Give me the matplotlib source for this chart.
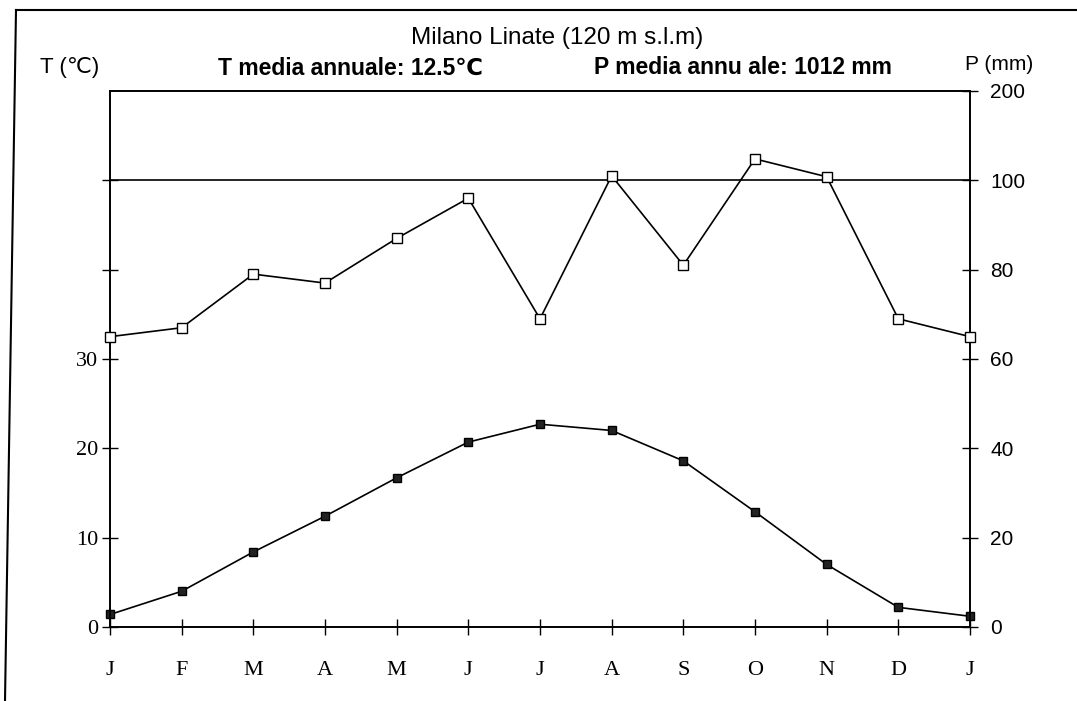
import matplotlib
matplotlib.use('Agg')
import matplotlib.pyplot as plt
import numpy as np
from matplotlib.lines import Line2D

# Dati climatici Milano Linate
mesi = ['J', 'F', 'M', 'A', 'M', 'J', 'J', 'A', 'S', 'O', 'N', 'D', 'J']
temperatura = [1.4, 4.0, 8.4, 12.4, 16.7, 20.7, 22.7, 22.0, 18.6, 12.9, 7.0, 2.2, 1.2]
precipitazioni = [65, 67, 79, 77, 87, 96, 69, 105, 81, 124, 104, 69, 65]

tick_t = [0, 10, 20, 30, 40, 50]
label_t = ['0', '10', '20', '30', '', '']
tick_p = [0, 20, 40, 60, 80, 100, 200]


# scala P: lineare fino a 100 mm, compressa sopra
def avanti_p(p):
    p = np.asarray(p, dtype=float)
    return np.where(p <= 100, p, 100 + (p - 100) / 5.0)


def indietro_p(y):
    y = np.asarray(y, dtype=float)
    return np.where(y <= 100, y, 100 + (y - 100) * 5.0)


# scala T: T*2 = P
def avanti_t(t):
    return avanti_p(np.asarray(t, dtype=float) * 2)


def indietro_t(y):
    return indietro_p(y) / 2.0


serif = ['Liberation Serif', 'DejaVu Serif']
sans = ['Liberation Sans', 'DejaVu Sans']

fig = plt.figure(figsize=(10.77, 7.01), dpi=100)
ax = fig.add_axes([110 / 1077, 1 - 627 / 701, 860 / 1077, 536 / 701])
ax2 = ax.twinx()

x = np.arange(len(mesi))

ax.set_yscale('function', functions=(avanti_t, indietro_t))
ax2.set_yscale('function', functions=(avanti_p, indietro_p))
ax.set_ylim(0, 100)
ax2.set_ylim(0, 200)
ax.set_xlim(0, 12)

ax.plot(x, temperatura, color='black', lw=1.2, marker='s', ms=6,
        mfc='#222222', mec='black', mew=1, clip_on=False, zorder=3)
ax2.plot(x, precipitazioni, color='black', lw=1.2, marker='s', ms=6.5,
         mfc='white', mec='black', mew=1, clip_on=False, zorder=3)
ax2.axhline(100, color='black', lw=1.2)

ax.set_xticks(x)
ax.set_xticklabels(mesi, family=serif, fontsize=16)
ax.set_yticks(tick_t)
ax.set_yticklabels(label_t, family=serif, fontsize=16)
ax2.set_yticks(tick_p)
ax2.set_yticklabels([str(v) for v in tick_p], family=sans, fontsize=15)
ax.yaxis.set_minor_locator(matplotlib.ticker.NullLocator())
ax2.yaxis.set_minor_locator(matplotlib.ticker.NullLocator())

ax.tick_params(axis='x', direction='inout', length=11, width=1, pad=19)
ax.tick_params(axis='y', direction='inout', length=11, width=1, pad=3)
ax2.tick_params(axis='y', direction='inout', length=11, width=1, pad=9)

for a in (ax, ax2):
    for s in a.spines.values():
        s.set_linewidth(1.2)

# testi in alto
fig.text(557 / 1077, 1 - 38 / 701, 'Milano Linate (120 m s.l.m)', family=sans,
         fontsize=17.5, ha='center', va='center')
fig.text(350 / 1077, 1 - 68 / 701, 'T media annuale: 12.5\u2103', family=sans,
         fontsize=16.5, fontweight='bold', ha='center', va='center')
fig.text(743 / 1077, 1 - 68 / 701, 'P media annu ale: 1012 mm', family=sans,
         fontsize=16.5, fontweight='bold', ha='center', va='center')
fig.text(70 / 1077, 1 - 68 / 701, 'T (\u2103)', family=sans,
         fontsize=16, ha='center', va='center')
fig.text(999 / 1077, 1 - 64 / 701, 'P (mm)', family=sans,
         fontsize=15, ha='center', va='center')

# cornice esterna
fig.add_artist(Line2D([16 / 1077, 1.0], [1 - 10 / 701, 1 - 10 / 701],
                      transform=fig.transFigure, color='black', lw=1.5))
fig.add_artist(Line2D([16 / 1077, 5 / 1077], [1 - 10 / 701, 0.0],
                      transform=fig.transFigure, color='black', lw=1.5))

fig.savefig('out.png', dpi=100, facecolor='white')
